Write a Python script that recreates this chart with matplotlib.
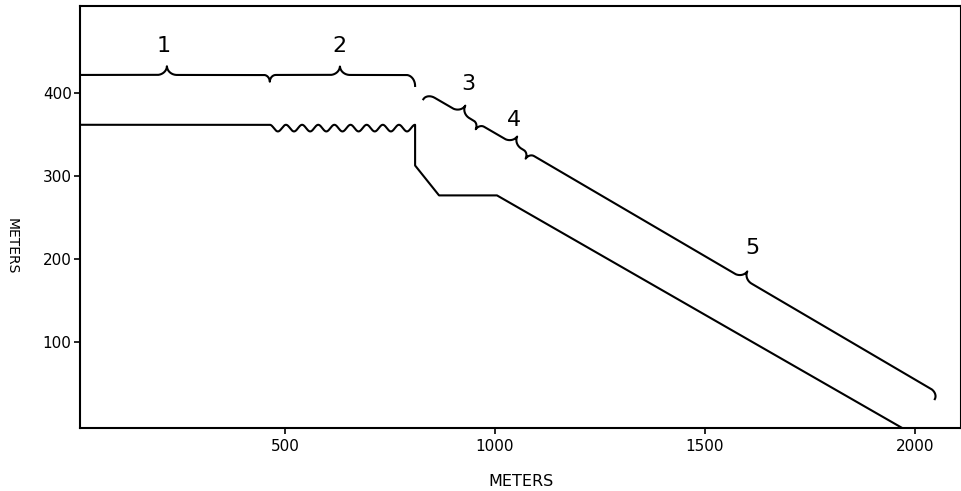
import numpy as np
import matplotlib.pyplot as plt

plt.rcParams['font.family'] = ['DejaVu Sans']

# axes
x_ticks = [500, 1000, 1500, 2000]
y_ticks = [100, 200, 300, 400]
x_lim = (12, 2110)
y_lim = (-3, 505)

# lower profile (meters)
profile_x = [12, 464, 810, 810, 867, 1005, 1970]
profile_y = [362, 362, 362, 313, 277, 277, -3]
ripple_x = [464, 810]      # rippled stretch
ripple_count = 9
ripple_depth = 8

# brace line over zones 1 and 2
brace_a_x = [12, 810]
brace_a_y = [422, 422]
brace_a_joints = [464]
brace_a_peaks = [219, 631]

# brace line over zones 3, 4 and 5
brace_b_x = [838, 2056]
brace_b_y = [400, 39]
brace_b_joints = [962, 1081]
brace_b_peaks = [919, 1043, 1591]

zone_labels = ['1', '2', '3', '4', '5']
zone_label_x = [210, 631, 936, 1046, 1613]
zone_label_y = [457, 457, 411, 368, 214]

fig = plt.figure(figsize=(9.62, 4.91), dpi=100)
ax = fig.add_axes([80 / 962, 63 / 491, 881 / 962, 422 / 491])
ax.set_xlim(*x_lim)
ax.set_ylim(*y_lim)


def cusp(t, w):
    # quarter-circle rise: 0 at |t|>=w, 1 (vertical tangent) at t=0
    t = np.clip(np.abs(t) / w, 0, 1)
    return 1 - np.sqrt(np.clip(1 - (1 - t) ** 2, 0, 1))


def brace_line(x, y, peaks, joints, hook_start=True, hook_end=True,
               h_peak=9, h_joint=7, w_peak=10, w_joint=6, h_hook=11, w_hook=9):
    '''line between two data points with brace marks, drawn in pixel space'''
    tr = ax.transData
    p0, p1 = tr.transform([(x[0], y[0]), (x[1], y[1])])
    d = p1 - p0
    L = np.hypot(*d)
    u = d / L
    n = np.array([-u[1], u[0]])
    if n[1] < 0:
        n = -n
    s = np.linspace(0, L, 6000)
    off = np.zeros_like(s)
    s_of = lambda xv: (tr.transform((xv, y[0]))[0] - p0[0]) / u[0]
    for xp in peaks:
        off += h_peak * cusp(s - s_of(xp), w_peak)
    for xj in joints:
        off -= h_joint * cusp(s - s_of(xj), w_joint)
    if hook_start:
        off -= h_hook * cusp(s, w_hook)
    if hook_end:
        off -= h_hook * cusp(L - s, w_hook)
    pts = p0 + np.outer(s, u) + np.outer(off, n)
    data = tr.inverted().transform(pts)
    return data[:, 0], data[:, 1]


# lower profile with ripples
t = np.linspace(0, 1, 600)
rx = ripple_x[0] + (ripple_x[1] - ripple_x[0]) * t
ry = np.interp(rx, profile_x[:3], profile_y[:3]) - ripple_depth / 2 * (1 - np.cos(2 * np.pi * ripple_count * t))
line_x = np.concatenate([profile_x[:1], rx, profile_x[3:]])
line_y = np.concatenate([profile_y[:1], ry, profile_y[3:]])
ax.plot(line_x, line_y, color='black', lw=1.5)

bx, by = brace_line(brace_a_x, brace_a_y, brace_a_peaks, brace_a_joints, hook_start=False)
ax.plot(bx, by, color='black', lw=1.5)
bx, by = brace_line(brace_b_x, brace_b_y, brace_b_peaks, brace_b_joints, h_hook=7)
ax.plot(bx, by, color='black', lw=1.5)

for lab, lx, ly in zip(zone_labels, zone_label_x, zone_label_y):
    ax.text(lx, ly, lab, ha='center', va='center', fontsize=16)

ax.set_xticks(x_ticks)
ax.set_yticks(y_ticks)
ax.tick_params(direction='out', length=4, width=1.2, labelsize=11, pad=4)
ax.tick_params(axis='y', pad=2)
for sp in ax.spines.values():
    sp.set_linewidth(1.5)
ax.set_xlabel('METERS', fontsize=11.5, labelpad=14)
ax.set_ylabel('METERS', fontsize=10, rotation=-90)
ax.yaxis.set_label_coords(-0.085, 0.43)

plt.savefig('out.png', dpi=100)
